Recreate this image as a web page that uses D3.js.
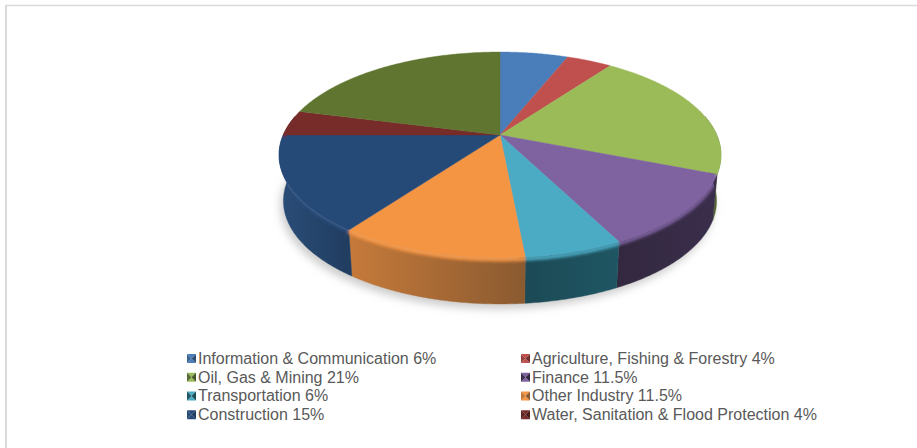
<!DOCTYPE html>
<html>
<head>
<meta charset="utf-8">
<script src="https://cdn.jsdelivr.net/npm/d3@7"></script>
<style>
html,body{margin:0;padding:0;background:#fff}
svg{display:block}
text{font-family:"Liberation Sans",Arial,sans-serif}
</style>
</head>
<body>
<svg id="chart" width="917" height="448"></svg>
<script>
// Lending portfolio by sector, in percent
const sectors = ["Information & Communication","Agriculture, Fishing & Forestry","Oil, Gas & Mining","Finance","Transportation","Other Industry","Construction","Water, Sanitation & Flood Protection","Other"];
const shares = [6,4,21,11.5,6,11.5,15,4,21];
const shareLabels = ["6%","4%","21%","11.5%","6%","11.5%","15%","4%",""];
const topColors = ["#4a7ebb","#c0504d","#9bbb59","#7f62a0","#4babc5","#f49544","#264a78","#772c2a","#5f7530"];
const sideLight = ["#3c6596","#9a403e","#5a6b35","#3a2e4c","#1f5663","#c67a3a","#2a4d78","#5f2322","#4c5e26"];
const sideDark = ["#2e4d72","#75302e","#47552a","#33283f","#1c4a56","#8a5a30","#213d60","#481b1a","#39471d"];
const legendCount = 8;

const svg = d3.select("#chart");
const defs = svg.append("defs");

// Perspective projection of the unit disc onto the page
const cx = 500, cy = 135, A = 216.8, B = 99.1, K = 0.194, depth = 46, taper = 0.98;
const project = (ang, r = 1) => {
  const u = r * Math.sin(ang), v = -r * Math.cos(ang), w = 1 - K * v;
  return [cx + A * u / w, cy + B * v / w];
};
const projectLow = (ang, r = 1) => {
  const [x, y] = project(ang, r);
  return [cx + taper * (x - cx), y + depth];
};
const arcSamples = (a0, a1, fn, r = 1) => {
  const n = Math.max(2, Math.ceil(Math.abs(a1 - a0) / 0.01));
  return d3.range(n + 1).map(i => fn(a0 + (a1 - a0) * i / n, r));
};
const line = d3.line();

const arcs = d3.pie().value(d => d).sort(null)(shares);

// Frame: only the top and left rules run across the page
svg.append("line").attr("x1", 5).attr("x2", 917).attr("y1", 5.5).attr("y2", 5.5)
  .attr("stroke", "#d9d9d9").attr("stroke-width", 1.6);
svg.append("line").attr("x1", 6).attr("x2", 6).attr("y1", 5).attr("y2", 448)
  .attr("stroke", "#d9d9d9").attr("stroke-width", 2);

// Soft drop shadow under the disc
const blur = (id, sd) => defs.append("filter").attr("id", id)
  .attr("x", "-10%").attr("y", "-20%").attr("width", "120%").attr("height", "140%")
  .append("feGaussianBlur").attr("stdDeviation", sd);
blur("soft", 4);
blur("rim", 1.6);
blur("glint", 0.8);
const fullLow = arcSamples(0, 2 * Math.PI, projectLow);
svg.append("path")
  .attr("d", line(fullLow) + "Z")
  .attr("transform", "translate(-3,5)")
  .attr("fill", "#9a9a9a").attr("fill-opacity", 0.5).attr("filter", "url(#soft)");

// Side wall: the part of each slice facing the viewer
const wallStart = Math.PI / 2 - Math.asin(K);
const wallEnd = 3 * Math.PI / 2 + Math.asin(K);
const frontSpan = d => [Math.max(d.startAngle, wallStart), Math.min(d.endAngle, wallEnd)];
const wall = svg.append("g");
arcs.forEach((d, i) => {
  const [a0, a1] = frontSpan(d);
  if (a1 <= a0) return;
  const top = arcSamples(a0, a1, project), low = arcSamples(a0, a1, projectLow);
  const gid = "wall" + i;
  const xs = top.map(p => p[0]);
  const lg = defs.append("linearGradient").attr("id", gid).attr("gradientUnits", "userSpaceOnUse")
    .attr("x1", d3.min(xs)).attr("x2", d3.max(xs)).attr("y1", 0).attr("y2", 0);
  // Light falls from the left, so the walls darken toward the right
  const leftLit = (a0 + a1) / 2 > Math.PI;
  lg.append("stop").attr("offset", 0).attr("stop-color", leftLit ? sideLight[i] : sideDark[i]);
  lg.append("stop").attr("offset", 1).attr("stop-color", leftLit ? sideDark[i] : sideLight[i]);
  wall.append("path").attr("d", line(top.concat(low.reverse())) + "Z")
    .attr("fill", `url(#${gid})`).attr("stroke", `url(#${gid})`).attr("stroke-width", 0.4);
});

// Top face
const face = svg.append("g");
arcs.forEach((d, i) => {
  const pts = [[cx, cy]].concat(arcSamples(d.startAngle, d.endAngle, project));
  face.append("path").attr("d", line(pts) + "Z")
    .attr("fill", topColors[i]).attr("stroke", topColors[i]).attr("stroke-width", 0.4);
});

// Rounded bevel: the top colour melts over the wall, with a glint on the lit front
const clipId = "discBody";
defs.append("clipPath").attr("id", clipId).append("path")
  .attr("d", line(arcSamples(wallStart, wallEnd, project)
    .concat(arcSamples(wallStart, wallEnd, projectLow).reverse())) + "Z");
const rim = svg.append("g").attr("clip-path", `url(#${clipId})`);
const soften = rim.append("g").attr("filter", "url(#rim)");
const glint = rim.append("g").attr("filter", "url(#glint)");
arcs.forEach((d, i) => {
  const [a0, a1] = frontSpan(d);
  if (a1 <= a0) return;
  const shifted = dy => arcSamples(a0, a1, a => {
    const p = project(a);
    return [p[0], p[1] + dy];
  });
  soften.append("path").attr("d", line(shifted(1.5))).attr("fill", "none")
    .attr("stroke", topColors[i]).attr("stroke-width", 4);
});
arcs.forEach((d, i) => {
  const [a0, a1] = frontSpan(d);
  if (a1 <= a0) return;
  // The glint only appears on the left-hand sweep of the rim
  const g0 = Math.max(a0, Math.PI * 0.98), g1 = Math.min(a1, Math.PI * 1.35);
  if (g1 <= g0) return;
  const pts = arcSamples(g0, g1, a => {
    const p = project(a);
    return [p[0], p[1] - 0.5];
  });
  glint.append("path").attr("d", line(pts)).attr("fill", "none")
    .attr("stroke", d3.interpolateRgb(topColors[i], "#fff")(0.22)).attr("stroke-width", 1.6);
});

// Legend in two columns, with pillow-shaded swatches
const legendRows = d3.scaleBand().domain(d3.range(4)).range([349, 424]);
const legendCols = d3.scaleOrdinal().domain([0, 1]).range([187, 521]);
const legend = svg.append("g");
const swatchSize = 9;
sectors.slice(0, legendCount).forEach((name, i) => {
  const row = Math.floor(i / 2), col = i % 2;
  const x = legendCols(col), y = legendRows(row) + legendRows.bandwidth() / 2;
  const s = swatchSize, c = [x + s / 2, y];
  const L = x, R = x + s, T = y - s / 2, Bm = y + s / 2;
  const shades = [
    [[[L, T], [R, T], c], topColors[i]],
    [[[L, Bm], [R, Bm], c], topColors[i]],
    [[[L, T], [L, Bm], c], sideLight[i]],
    [[[R, T], [R, Bm], c], sideDark[i]]
  ];
  shades.forEach(([pts, fill]) => legend.append("path").attr("d", line(pts) + "Z").attr("fill", fill));
  legend.append("text").attr("x", x + 11).attr("y", y + 5.5)
    .attr("font-size", 16).attr("fill", "#595959")
    .text(`${name} ${shareLabels[i]}`);
});
</script>
</body>
</html>
